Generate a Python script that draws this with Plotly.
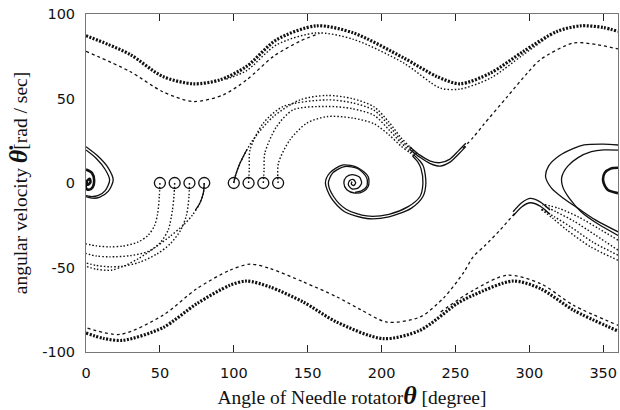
import plotly.graph_objects as go

# ---------------- data (theta [deg], angular velocity [rad/s]) -------------
ub_t = [0, 15, 30, 52, 72.6, 90.6, 108.7, 129, 156, 181, 215, 237.5, 253, 273.6, 296, 318.8, 334.5, 350, 360]
ub_v = [87.2, 82, 76, 63, 58.7, 61, 69, 84.8, 93, 88.8, 74, 63, 58.7, 65, 77.9, 89.7, 93, 92, 89.7]
s2_t = [95, 108.7, 129, 156, 181, 215, 239.7, 253, 273.6, 296, 312]
s2_v = [61.5, 66.5, 81.8, 88.8, 85, 71, 56.2, 55.6, 62, 76, 86]
ud1_t = [255, 262, 269, 285, 298.6, 307.5, 330, 346, 360]
ud1_v = [20.5, 27, 34.5, 51, 65, 73, 82.9, 81.8, 79.3]
ud2_t = [0, 29.7, 52, 72.6, 93, 108.7, 127, 145, 158]
ud2_v = [77.9, 66, 54, 48.2, 52.2, 61, 75, 84, 88.5]

lb_t = [0, 12, 25, 52, 75, 97.4, 108.7, 124.5, 147, 169.7, 201, 226, 251, 262, 289, 307.5, 330, 360]
lb_v = [-88.8, -92, -93.1, -85.6, -71.4, -60.5, -58, -61.5, -70.4, -82.3, -92.1, -87.2, -71.4, -66.4, -58, -62.5, -75.3, -87.6]
lb2_t = [240, 262, 285, 307.5, 330, 360]
lb2_v = [-76.3, -63.5, -54.6, -59.5, -72.4, -84.2]
ld_t = [290, 280, 270, 262, 255.5, 242, 226, 203.6, 186, 169.7, 147, 124.5, 111, 97.4, 75, 52, 23, 0]
ld_v = [-18, -28, -37, -43.7, -53, -68, -79.3, -82.3, -75, -67.4, -58.5, -50.6, -48, -51.6, -62.5, -78.3, -89.6, -85.6]

# released from rest at 100..130 deg
r100_t = [100, 101, 104.2, 113, 126.8, 144.9, 163, 180, 195, 205, 213, 219, 224]
r100_v = [0, 4, 11.7, 25.5, 39.3, 49.2, 51.8, 50, 45, 36, 27, 21.5, 17.5]
r110_t = [110, 110.5, 111, 120, 133.5, 163, 180, 195, 205, 213, 219, 224]
r110_v = [0, 8, 19.6, 35.4, 45.3, 49.2, 47.5, 43, 34, 25.5, 20.5, 16.5]
r120_t = [120, 120.5, 121, 129, 140.3, 163, 180, 195, 205, 213, 219, 223]
r120_v = [0, 8, 17.6, 33.4, 43.3, 45.3, 44, 40, 31.5, 24, 19, 16.5]
r130_t = [130, 130.2, 138, 149.4, 163, 180, 195, 205, 213, 219, 222]
r130_v = [0, 11.7, 25.5, 35.4, 39.3, 38.5, 35, 28.5, 22, 18, 16]
r100s_t = [100, 101, 104.2, 109]
r100s_v = [0, 4, 11.7, 20]
# upper saddle (solid "V")
va_t = [219, 226, 233, 239.6, 246, 252, 257]
va_v = [21.5, 16.5, 13, 12, 14, 19, 23.5]
vb_t = [219, 226, 233, 239.6, 246, 252, 257]
vb_v = [20, 15.2, 11.5, 10, 12.2, 17, 21.5]

# released from rest at 50..80 deg
l50_t = [50, 49.6, 48.5, 46.5, 42, 35, 25, 16, 7, 0]
l50_v = [0, -8, -18, -25, -31, -35, -37.3, -37.8, -37.2, -36]
l60_t = [60, 59.6, 58.5, 55.6, 50, 42, 30, 16, 7, 0]
l60_v = [0, -7, -16, -27.9, -35.5, -40.5, -43, -43.7, -43.2, -41.7]
l70_t = [70, 69.7, 68, 64, 57, 48, 36, 24, 16, 7, 0]
l70_v = [0, -8, -19, -28, -36, -42, -47, -49.3, -49.6, -48.8, -47.3]
l80_t = [80, 79.4, 77, 72, 65.8, 57, 47, 36, 26, 17, 7, 0]
l80_v = [0, -6, -12, -19, -25, -31.5, -38, -44.5, -49, -51.6, -51, -49.3]
l80s_t = [80, 79.4, 77, 74]
l80s_v = [0, -6, -12, -16]
# their continuation after wrapping at 360
w1_t = [360, 341.5, 325.5, 316, 308]
w1_v = [-45.7, -37.8, -27.9, -21, -15.5]
w2_t = [360, 343, 328, 317, 308]
w2_v = [-42.7, -35, -26, -20, -15.5]
w3_t = [360, 345, 330, 318, 309]
w3_v = [-39.7, -31, -22.5, -17, -13]
w4_t = [360, 347, 333, 320, 309]
w4_v = [-33.8, -27, -20, -15, -12.5]
# lower saddle (solid inverted "V")
vc_t = [314, 307, 300.7, 295, 289]
vc_v = [-16, -11, -9.1, -11.5, -17]
vd_t = [314, 307, 300.7, 295, 289]
vd_v = [-18.5, -13.5, -11.7, -14, -19.5]

# spiral around 180 deg
sp1_t = [222, 226, 228.4, 230, 228, 220, 205, 190, 175, 166, 162, 165, 174, 184, 191, 191, 187.7, 182, 176.5, 174.5, 176, 180, 185, 186.5, 184, 180, 177.5, 178.5, 181, 182.5, 181, 179.5, 180]
sp1_v = [16.5, 13, 9.7, 0, -8, -15, -20, -21, -17, -9, 0, 6, 10.7, 9, 3.7, -2, -5, -6, -4, 0, 3.5, 5, 3.5, 0, -3, -3.5, -1, 1.5, 2, 0, -1.5, -0.5, 0.8]
sp2_t = [221, 224.5, 226.7, 228, 226, 218, 205, 190, 176, 167.5, 164, 167, 175, 184, 190, 190, 186.7, 182]
sp2_v = [16, 12.5, 8.5, 0, -8, -14, -18.5, -19.5, -15.5, -8, 0, 6, 9.7, 8.5, 3, -2, -4.5, -5.5]

# loop around 0 / 360 deg
lr1_t = [360, 345, 333, 323, 315, 311, 313, 320, 330, 337, 350, 360]
lr1_v = [-28.9, -22, -15, -9, -3, 3.7, 10, 16, 20.5, 22.5, 23, 22.5]
lr2_t = [360, 346, 335, 327, 322.5, 322, 326, 333, 342, 350.3, 360]
lr2_v = [-31, -24, -17, -9, -2, 3.7, 10, 15, 18.5, 19.6, 19.5]
ll1_t = [0, 8, 15, 18.4, 15, 9, 4.8, 0]
ll1_v = [21.5, 16, 9, 1.8, -5, -8.5, -9, -8]
ll2_t = [0, 7, 13, 16, 13, 8, 3, 0]
ll2_v = [19.5, 14.5, 8, 1.8, -4.5, -7.5, -8, -7.5]
rs_t = [360, 353, 350, 351, 355, 360]
rs_v = [-6, -4, 1, 6, 8.5, 9]
ls_t = [0, 4, 5.5, 4.5, 2, 0, 0.5, 2.5, 3, 1.5, 0.5]
ls_v = [8, 6, 1.5, -2.5, -4, -3, 1, 2.5, 0.5, -1, 0.5]

start_t = [50, 60, 70, 80, 100, 110, 120, 130]
start_v = [0, 0, 0, 0, 0, 0, 0, 0]

x_ticks = [0, 50, 100, 150, 200, 250, 300, 350]
y_ticks = [-100, -50, 0, 50, 100]

fig = go.Figure()
K = "#111111"


def add(t, v, dash="solid", width=1.2):
    fig.add_trace(go.Scatter(x=t, y=v, mode="lines",
                             line=dict(color=K, width=width, dash=dash, shape="spline", smoothing=0.8),
                             showlegend=False, hoverinfo="skip"))


DOT = "1.5px,2px"
DASH = "3px,3px"
add(ub_t, ub_v, "2px,1.5px", 3.2)
add(s2_t, s2_v, DOT, 1.4)
add(ud1_t, ud1_v, DASH, 1.3)
add(ud2_t, ud2_v, DASH, 1.3)
add(lb_t, lb_v, "2px,1.5px", 3.2)
add(lb2_t, lb2_v, DASH, 1.3)
add(ld_t, ld_v, DASH, 1.3)
for t, v in [(r100_t, r100_v), (r110_t, r110_v), (r120_t, r120_v), (r130_t, r130_v),
             (l50_t, l50_v), (l60_t, l60_v), (l70_t, l70_v), (l80_t, l80_v),
             (w1_t, w1_v), (w2_t, w2_v), (w3_t, w3_v), (w4_t, w4_v)]:
    add(t, v, DOT, 1.4)
for t, v in [(va_t, va_v), (vb_t, vb_v), (vc_t, vc_v), (vd_t, vd_v),
             (sp1_t, sp1_v), (sp2_t, sp2_v), (lr1_t, lr1_v), (ll1_t, ll1_v),
             (lr2_t, lr2_v), (ll2_t, ll2_v), (r100s_t, r100s_v), (l80s_t, l80s_v)]:
    add(t, v, "solid", 1.3)
add(rs_t, rs_v, "solid", 2.6)
add(ls_t, ls_v, "solid", 2.6)

fig.add_trace(go.Scatter(x=start_t, y=start_v, mode="markers",
                         marker=dict(symbol="circle-open", size=11, color=K, line=dict(width=1.3)),
                         showlegend=False, hoverinfo="skip"))

tickfont = dict(family="DejaVu Sans, sans-serif", size=14.5, color="#111111")
titlefont = dict(family="Liberation Serif, Times New Roman, serif", size=19.5, color="#111111")

fig.update_xaxes(range=[0, 360], tickvals=x_ticks, ticktext=[str(t) for t in x_ticks],
                 showgrid=False, zeroline=False, showline=True, linecolor="#777777", linewidth=1,
                 mirror="ticks", ticks="inside", ticklen=7, tickcolor="#222222", tickwidth=1,
                 ticklabelstandoff=8, tickfont=tickfont,
                 title=dict(text='Angle of Needle rotator<span style="font-size:26px"><b><i>θ</i></b></span> [degree]',
                            font=titlefont, standoff=4))
fig.update_yaxes(range=[-100, 100], tickvals=y_ticks, ticktext=[str(t) for t in y_ticks],
                 showgrid=False, zeroline=False, showline=True, linecolor="#777777", linewidth=1,
                 mirror=True, ticks="", ticklabelstandoff=7, tickfont=tickfont,
                 title=dict(text='angular velocity <span style="font-size:26px"><b><i>θ̇</i></b></span>[rad / sec]',
                            font=titlefont, standoff=9))

fig.update_layout(width=620, height=410, margin=dict(l=86, r=2, t=14, b=58),
                  paper_bgcolor="white", plot_bgcolor="white")

fig.write_html("out.html", config={"displayModeBar": False})
with open("out.html", encoding="utf-8") as f:
    html = f.read()
html = html.replace("<head>", "<head><style>html,body{margin:0;padding:0;overflow:hidden}</style>", 1)
with open("out.html", "w", encoding="utf-8") as f:
    f.write(html)
